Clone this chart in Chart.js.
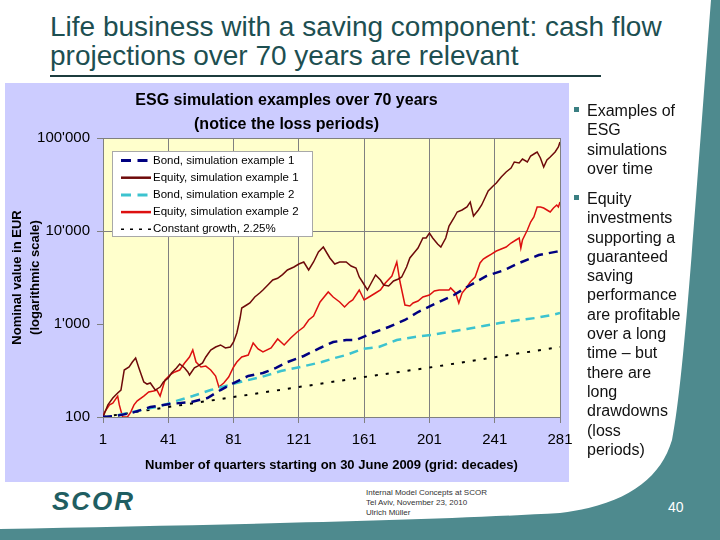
<!DOCTYPE html>
<html>
<head>
<meta charset="utf-8">
<script src="https://cdn.jsdelivr.net/npm/chart.js@4.4.0/dist/chart.umd.min.js"></script>
<style>
html,body{margin:0;padding:0;}
body{width:720px;height:540px;position:relative;overflow:hidden;background:#ffffff;font-family:"Liberation Sans",Arial,sans-serif;}
#deco{position:absolute;left:0;top:0;}
#slideTitle{position:absolute;left:50px;top:12px;font-size:28px;line-height:29px;color:#1d4f51;white-space:nowrap;}
#rule{position:absolute;left:50px;top:75px;width:551px;height:2px;background:#1c3c3e;}
#panel{position:absolute;left:5px;top:83px;width:564px;height:399px;background:#ccccff;}
#wrap{position:absolute;left:0;top:83px;width:600px;height:400px;}
.bul{position:absolute;left:587px;font-size:16px;line-height:19.3px;color:#111;white-space:nowrap;}
.sq{position:absolute;left:574px;width:5px;height:5px;background:#3a7f82;}
#logo{position:absolute;left:52px;top:486px;font-size:26px;font-weight:bold;font-style:italic;letter-spacing:2px;color:#1f5e62;}
#foot{position:absolute;left:366px;top:488px;font-size:8px;line-height:9.8px;color:#333;white-space:nowrap;}
#pnum{position:absolute;left:668px;top:499px;font-size:14px;color:#ffffff;}
</style>
</head>
<body>
<svg id="deco" width="720" height="540">
  <path d="M 711 0 L 720 0 L 720 540 L 0 540 L 0 529 C 200 525, 420 521, 560 513 C 625 505, 660 480, 672 440 C 684 380, 694 220, 711 0 Z" fill="#4e8a8e"/>
</svg>
<div id="slideTitle">Life business with a saving component: cash flow<br>projections over 70 years are relevant</div>
<div id="rule"></div>
<div id="panel"></div>
<div id="wrap"><canvas id="c" width="600" height="400"></canvas></div>

<div class="sq" style="top:107px"></div>
<div class="bul" style="top:101px">Examples of<br>ESG<br>simulations<br>over time</div>
<div class="sq" style="top:195px"></div>
<div class="bul" style="top:189px">Equity<br>investments<br>supporting a<br>guaranteed<br>saving<br>performance<br>are profitable<br>over a long<br>time – but<br>there are<br>long<br>drawdowns<br>(loss<br>periods)</div>

<div id="logo">SCOR</div>
<div id="foot">Internal Model Concepts at SCOR<br>Tel Aviv, November 23, 2010<br>Ulrich Müller</div>
<div id="pnum">40</div>

<script>
// ---- data ----
const chartTitle = ["ESG simulation examples over 70 years", "(notice the loss periods)"];
const xAxisTitle = "Number of quarters starting on 30 June 2009 (grid: decades)";
const yAxisTitle = ["Nominal value in EUR", "(logarithmic scale)"];
const quarterTicks = [1, 41, 81, 121, 161, 201, 241, 281];
const valueTicks = [100, 1000, 10000, 100000];
const valueTickLabels = ["100", "1'000", "10'000", "100'000"];
const seriesNames = ["Bond, simulation example 1", "Equity, simulation example 1", "Bond, simulation example 2", "Equity, simulation example 2", "Constant growth, 2.25%"];

const bond1Q = [1, 8, 18, 30, 42, 55, 65, 73, 81, 90, 99, 107, 114, 124, 134, 142, 150, 156, 166, 176, 186, 194, 203, 216, 224, 236, 247, 256, 268, 279, 281];
const bond1V = [100, 102, 110, 128, 138, 145, 160, 195, 232, 276, 297, 337, 390, 453, 552, 640, 673, 673, 800, 928, 1104, 1346, 1601, 2050, 2499, 3283, 3808, 4529, 5521, 6000, 6100];

const equity1Q = [1, 4, 7, 10, 12, 14, 17, 19, 21, 23, 26, 28, 30, 33, 36, 38, 41, 43, 46, 48, 51, 53, 54, 57, 59, 62, 64, 67, 70, 73, 76, 79, 81, 83, 85, 86, 89, 91, 94, 97, 99, 102, 105, 108, 111, 114, 118, 121, 124, 127, 130, 133, 136, 140, 143, 146, 150, 153, 156, 158, 160, 163, 165, 168, 171, 173, 176, 179, 182, 184, 187, 189, 192, 194, 197, 199, 201, 203, 206, 208, 211, 213, 216, 218, 221, 224, 226, 228, 231, 233, 235, 237, 240, 242, 245, 248, 251, 253, 256, 258, 261, 263, 266, 267, 269, 271, 273, 275, 278, 280, 281];
const equity1V = [100, 135, 160, 181, 195, 320, 345, 390, 431, 337, 238, 226, 232, 195, 210, 238, 263, 297, 337, 372, 337, 305, 283, 337, 353, 381, 442, 525, 566, 595, 552, 566, 640, 800, 1160, 1486, 1601, 1682, 1951, 2154, 2321, 2627, 2973, 3100, 3400, 3808, 4102, 4418, 4642, 3808, 4642, 5946, 6730, 5125, 4418, 4642, 4642, 4204, 4001, 3202, 2829, 2321, 2692, 3365, 2973, 2627, 2562, 2900, 3047, 3202, 4102, 5125, 5946, 6566, 8411, 8411, 9517, 8411, 7248, 6730, 8411, 11320, 13800, 16010, 16820, 18120, 20500, 14500, 16820, 19040, 22640, 26920, 30470, 32830, 38080, 43100, 47580, 55210, 53860, 59460, 55210, 64040, 68990, 70720, 60940, 48780, 58000, 62490, 70720, 80040, 90570];

const bond2Q = [1, 5, 19, 36, 46, 56, 67, 85, 98, 110, 122, 135, 143, 150, 160, 170, 181, 192, 202, 213, 224, 234, 244, 256, 266, 276, 281];
const bond2V = [100, 100, 113, 131, 149, 168, 195, 238, 269, 312, 345, 390, 431, 464, 539, 566, 673, 725, 762, 820, 884, 952, 1025, 1104, 1160, 1250, 1313];

const equity2Q = [1, 2, 5, 7, 10, 11, 13, 16, 18, 20, 22, 26, 29, 32, 34, 36, 39, 42, 45, 48, 51, 54, 56, 58, 61, 64, 67, 70, 72, 75, 78, 81, 83, 86, 90, 93, 96, 99, 104, 108, 112, 116, 120, 124, 127, 130, 134, 139, 142, 146, 149, 152, 154, 158, 161, 164, 168, 171, 174, 178, 181, 183, 186, 189, 191, 194, 197, 201, 204, 207, 210, 213, 214, 217, 219, 221, 224, 226, 229, 232, 234, 236, 239, 242, 245, 248, 251, 254, 256, 257, 258, 261, 263, 265, 267, 269, 271, 274, 275, 277, 279, 280, 281];
const equity2V = [100, 113, 135, 141, 168, 135, 100, 100, 113, 135, 149, 168, 186, 190, 195, 168, 250, 283, 305, 320, 381, 442, 525, 390, 345, 353, 320, 276, 210, 232, 269, 345, 390, 442, 464, 625, 539, 500, 552, 690, 595, 707, 820, 928, 1104, 1219, 1724, 2209, 1951, 1724, 1523, 1724, 1811, 2321, 1811, 1951, 2154, 2321, 2760, 3283, 4642, 2829, 1601, 1561, 1682, 1767, 1951, 2050, 2264, 2321, 2321, 2321, 2439, 2154, 1682, 2154, 2499, 2829, 3202, 4529, 5000, 5254, 5656, 6094, 6404, 6730, 7430, 8004, 8411, 6566, 8004, 10250, 12500, 14140, 18120, 18120, 17670, 16410, 16010, 17670, 19040, 18120, 20500];

const constQ = [1, 41, 81, 121, 161, 201, 241, 281];
const constV = [100, 128, 164, 210, 269, 340, 440, 566];

// ---- chart ----
const FONT = "'Liberation Sans', Arial, sans-serif";
Chart.defaults.font.family = FONT;
Chart.defaults.color = '#000';

const toPts = (q, v) => q.map((x, i) => ({x: x, y: v[i]}));

const styles = [
  {color: '#000080', width: 2.5, dash: [9, 6], legendDash: [10, 6.5], legendWidth: 3},
  {color: '#6e0a0a', width: 1.5, dash: [], legendDash: [], legendWidth: 2.5},
  {color: '#3cc3cf', width: 2.5, dash: [9, 6], legendDash: [10, 6.5], legendWidth: 3},
  {color: '#dd1010', width: 1.5, dash: [], legendDash: [], legendWidth: 2.5},
  {color: '#000000', width: 2, dash: [3, 8], legendDash: [3, 6], legendWidth: 1.5}
];
const seriesData = [toPts(bond1Q, bond1V), toPts(equity1Q, equity1V), toPts(bond2Q, bond2V), toPts(equity2Q, equity2V), toPts(constQ, constV)];

const datasets = seriesData.map((d, i) => ({
  label: seriesNames[i],
  data: d,
  borderColor: styles[i].color,
  backgroundColor: styles[i].color,
  borderWidth: styles[i].width,
  borderDash: styles[i].dash,
  pointRadius: 0,
  tension: 0,
  fill: false
}));

const plotBg = {
  id: 'plotBg',
  beforeDraw(chart) {
    const {ctx, chartArea: a} = chart;
    ctx.save();
    ctx.fillStyle = '#ffffcc';
    ctx.fillRect(a.left, a.top, a.right - a.left, a.bottom - a.top);
    ctx.restore();
  }
};

const boxLegend = {
  id: 'boxLegend',
  afterDraw(chart) {
    const {ctx, chartArea: a} = chart;
    const x0 = a.left + 9, y0 = a.top + 13, w = 201, h = 86;
    ctx.save();
    ctx.fillStyle = '#ffffff';
    ctx.fillRect(x0, y0, w, h);
    ctx.strokeStyle = '#a8a8a8';
    ctx.lineWidth = 1;
    ctx.strokeRect(x0 + 0.5, y0 + 0.5, w - 1, h - 1);
    chart.data.datasets.forEach((ds, i) => {
      const cy = y0 + 9.5 + i * 17.2;
      ctx.strokeStyle = styles[i].color;
      ctx.lineWidth = styles[i].legendWidth;
      ctx.setLineDash(styles[i].legendDash);
      ctx.beginPath();
      ctx.moveTo(x0 + 9, cy);
      ctx.lineTo(x0 + 39, cy);
      ctx.stroke();
      ctx.setLineDash([]);
      ctx.fillStyle = '#000';
      ctx.font = '11.5px ' + FONT;
      ctx.textBaseline = 'middle';
      ctx.textAlign = 'left';
      ctx.fillText(ds.label, x0 + 41, cy);
    });
    ctx.restore();
  }
};

new Chart(document.getElementById('c').getContext('2d'), {
  type: 'line',
  data: {datasets: datasets},
  options: {
    responsive: false,
    animation: false,
    parsing: true,
    layout: {padding: {left: 13, right: 40, top: 0, bottom: 0}},
    plugins: {
      legend: {display: false},
      tooltip: {enabled: false},
      title: {
        display: true,
        text: chartTitle,
        color: '#000',
        font: {size: 16, weight: 'bold', lineHeight: 1.5},
        padding: {top: 6, bottom: 1}
      }
    },
    scales: {
      x: {
        type: 'linear',
        min: 1,
        max: 281,
        afterBuildTicks: s => { s.ticks = quarterTicks.map(v => ({value: v})); },
        afterFit: s => { s.height = 66; s.paddingLeft = 0; s.paddingRight = 0; },
        ticks: {
          autoSkip: false, maxRotation: 0, padding: 8, color: '#000',
          font: {size: 15},
          callback: v => String(v)
        },
        grid: {color: '#808080', lineWidth: 1, tickLength: 6, tickColor: '#808080', drawTicks: true},
        border: {display: true, color: '#808080', width: 1},
        title: {display: true, text: xAxisTitle, color: '#000', font: {size: 13, weight: 'bold'}, padding: {top: 0, bottom: 10}}
      },
      y: {
        type: 'logarithmic',
        min: 100,
        max: 100000,
        afterBuildTicks: s => { s.ticks = valueTicks.map(v => ({value: v})); },
        afterFit: s => { s.width = 90; s.paddingTop = 0; s.paddingBottom = 0; },
        ticks: {
          autoSkip: false, padding: 7, color: '#000',
          font: {size: 15},
          callback: v => valueTickLabels[valueTicks.indexOf(v)]
        },
        grid: {
          color: c => (c.tick && (c.tick.value === 10000 || c.tick.value === 100000)) ? '#808080' : 'rgba(0,0,0,0)',
          lineWidth: 1, tickLength: 6, tickColor: '#808080', drawTicks: true
        },
        border: {display: true, color: '#808080', width: 1},
        title: {display: true, text: yAxisTitle, color: '#000', font: {size: 13, weight: 'bold', lineHeight: 18 / 13}, padding: {top: -5, bottom: 0}}
      }
    }
  },
  plugins: [plotBg, boxLegend]
});
</script>
</body>
</html>
